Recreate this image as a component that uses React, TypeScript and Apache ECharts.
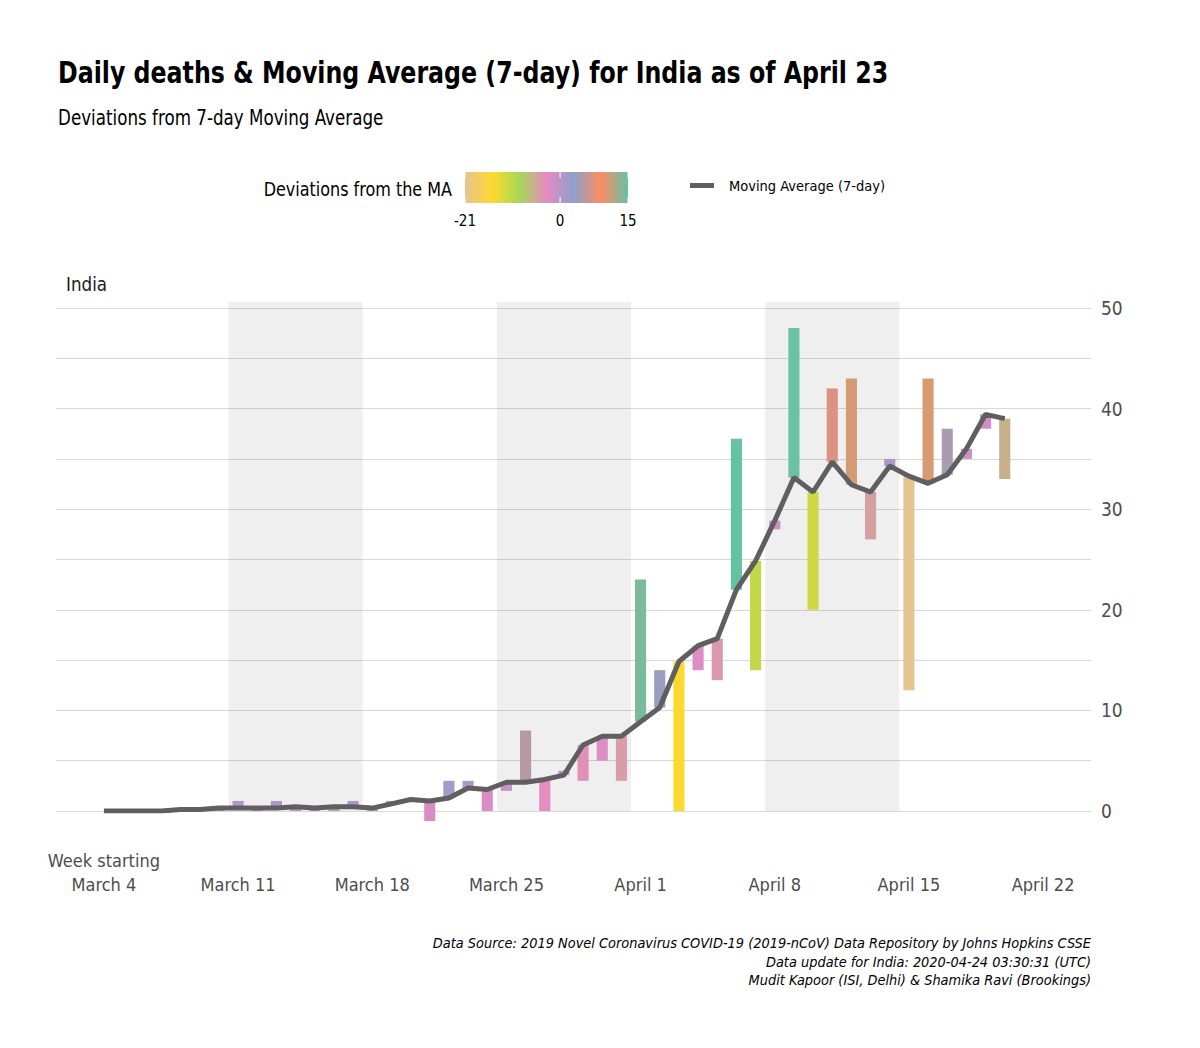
import React, { useEffect, useRef } from "react";
import * as echarts from "echarts";

// Category axis (one slot per day, with padding days on both sides)
const categories = [
  "Mar 2", "Mar 3", "Mar 4", "Mar 5", "Mar 6", "Mar 7", "Mar 8", "Mar 9", "Mar 10",
  "Mar 11", "Mar 12", "Mar 13", "Mar 14", "Mar 15", "Mar 16", "Mar 17", "Mar 18",
  "Mar 19", "Mar 20", "Mar 21", "Mar 22", "Mar 23", "Mar 24", "Mar 25", "Mar 26",
  "Mar 27", "Mar 28", "Mar 29", "Mar 30", "Mar 31", "Apr 1", "Apr 2", "Apr 3",
  "Apr 4", "Apr 5", "Apr 6", "Apr 7", "Apr 8", "Apr 9", "Apr 10", "Apr 11",
  "Apr 12", "Apr 13", "Apr 14", "Apr 15", "Apr 16", "Apr 17", "Apr 18", "Apr 19",
  "Apr 20", "Apr 21", "Apr 22", "Apr 23", "Apr 24",
];

// Dates that carry data (March 4 .. April 20)
const dataStart = "Mar 4";

// Daily deaths, Mar 4 .. Apr 20
const deaths = [
  0, 0, 0, 0, 0, 0, 0, 1, 0, 1, 0, 0, 0, 1, 0, 1, 1, -1, 3, 3, 0, 2, 8, 0,
  4, 3, 5, 3, 23, 14, 0, 14, 13, 37, 14, 28, 48, 20, 42, 43, 27, 35, 12, 43,
  38, 35, 38, 33,
];

// 7-day moving average, Mar 4 .. Apr 20
const movingAvg = [
  0, 0, 0, 0, 0.14, 0.14, 0.29, 0.29, 0.29, 0.29, 0.43, 0.29, 0.43, 0.43, 0.29,
  0.71, 1.14, 1.0, 1.29, 2.29, 2.14, 2.86, 2.86, 3.14, 3.57, 6.57, 7.43, 7.43,
  8.86, 10.29, 14.86, 16.43, 17.14, 22.0, 24.86, 28.86, 33.14, 31.71, 34.71,
  32.43, 31.71, 34.29, 33.29, 32.57, 33.43, 36.0, 39.43, 39.0,
];

// Shaded weeks (week start dates)
const shadedWeeks = ["Mar 11", "Mar 25", "Apr 8"];

// X tick labels
const tickDates = ["Mar 4", "Mar 11", "Mar 18", "Mar 25", "Apr 1", "Apr 8", "Apr 15", "Apr 22"];
const tickLabels = [
  "Week starting\nMarch 4", "March 11", "March 18", "March 25",
  "April 1", "April 8", "April 15", "April 22",
];

// Colour scale for deviations
const devMin = -21;
const devMax = 15;
const devTicks = [-21, 0, 15];
const palette = ["#e5c494", "#ffd92f", "#a6d854", "#e78ac3", "#8da0cb", "#fc8d62", "#66c2a5"];

const FONT = "'Liberation Sans Narrow', 'Arial Narrow', 'DejaVu Sans Condensed', sans-serif";

export default function App() {
  const ref = useRef<HTMLDivElement>(null);

  useEffect(() => {
    if (!ref.current) return;
    const chart = echarts.init(ref.current, null, { renderer: "svg" });

    const offset = categories.indexOf(dataStart);
    const barData = deaths.map((d, i) => [offset + i, movingAvg[i], d, d - movingAvg[i]]);
    const lineData = movingAvg.map((m, i) => [offset + i, m]);
    const shadeData = shadedWeeks.map((w) => [categories.indexOf(w), categories.indexOf(w) + 6]);

    // legend colour bar geometry
    const cbX = 465, cbY = 172, cbW = 163, cbH = 31;
    const devToX = (v: number) => cbX + ((v - devMin) / (devMax - devMin)) * cbW;

    const graphics: any[] = [
      {
        type: "text",
        x: 58, y: 72, scaleX: 0.85,
        style: {
          text: "Daily deaths & Moving Average (7-day) for India as of April 23",
          x: 0, y: 0, align: "left", verticalAlign: "middle",
          fontSize: 31, fontWeight: "bold", fontFamily: FONT, fill: "#000",
        },
      },
      {
        type: "text",
        x: 58, y: 118, scaleX: 0.886,
        style: {
          text: "Deviations from 7-day Moving Average",
          x: 0, y: 0, align: "left", verticalAlign: "middle",
          fontSize: 21, fontFamily: FONT, fill: "#000",
        },
      },
      {
        type: "rect",
        shape: { x: cbX, y: cbY, width: cbW, height: cbH },
        style: {
          fill: new echarts.graphic.LinearGradient(
            0, 0, 1, 0,
            palette.map((c, i) => ({ offset: i / (palette.length - 1), color: c }))
          ),
        },
      },
      {
        type: "text",
        x: 452, y: 189, scaleX: 0.89,
        style: {
          text: "Deviations from the MA",
          x: 0, y: 0, align: "right", verticalAlign: "middle",
          fontSize: 20, fontFamily: FONT, fill: "#000",
        },
      },
      {
        type: "text",
        x: 66, y: 284, scaleX: 0.93,
        style: {
          text: "India", x: 0, y: 0, align: "left", verticalAlign: "middle",
          fontSize: 20, fontFamily: FONT, fill: "#1a1a1a",
        },
      },
      {
        type: "text",
        style: {
          text:
            "Data Source: 2019 Novel Coronavirus COVID-19 (2019-nCoV) Data Repository by Johns Hopkins CSSE\nData update for India: 2020-04-24 03:30:31 (UTC)\nMudit Kapoor (ISI, Delhi) & Shamika Ravi (Brookings)",
          x: 1091, y: 934, align: "right", verticalAlign: "top",
          fontSize: 14.4, fontStyle: "italic", lineHeight: 18.5, fontFamily: FONT, fill: "#000",
        },
      },
    ];
    devTicks.forEach((t) => {
      const x = devToX(t);
      graphics.push(
        { type: "line", shape: { x1: x, y1: cbY, x2: x, y2: cbY + 6 }, style: { stroke: "#fff", lineWidth: 1 } },
        { type: "line", shape: { x1: x, y1: cbY + cbH - 6, x2: x, y2: cbY + cbH }, style: { stroke: "#fff", lineWidth: 1 } },
        {
          type: "text",
          style: {
            text: String(t), x, y: 221, align: "center", verticalAlign: "middle",
            fontSize: 15, fontFamily: FONT, fill: "#000",
          },
        }
      );
    });

    const option: any = {
      animation: false,
      textStyle: { fontFamily: FONT },
      legend: {
        data: ["Moving Average (7-day)"],
        left: 690, top: 178, padding: 0,
        icon: "rect", itemWidth: 24, itemHeight: 5, itemGap: 10,
        textStyle: { fontSize: 14.5, color: "#000", fontFamily: FONT, padding: [0, 0, 0, 10] },
      },
      grid: { left: 56, right: 109, top: 308, bottom: 237, containLabel: false },
      xAxis: {
        type: "category",
        data: categories,
        boundaryGap: true,
        axisLine: { show: false },
        axisTick: { show: false },
        splitLine: { show: false },
        axisLabel: {
          interval: (_i: number, v: string) => tickDates.includes(v),
          formatter: (v: string) => tickLabels[tickDates.indexOf(v)],
          verticalAlign: "bottom",
          lineHeight: 24,
          margin: 85,
          fontSize: 18,
          color: "#4d4d4d",
          fontFamily: FONT,
        },
      },
      yAxis: {
        type: "value",
        position: "right",
        min: 0, max: 50, interval: 5,
        axisLine: { show: false },
        axisTick: { show: false },
        axisLabel: {
          margin: 10, fontSize: 19, color: "#4d4d4d", fontFamily: FONT,
          formatter: (v: number) => (v % 10 === 0 ? String(v) : ""),
        },
        splitLine: { show: true, lineStyle: { color: "#d9d9d9", width: 1 } },
      },
      visualMap: {
        type: "continuous",
        show: false,
        min: devMin, max: devMax,
        dimension: 3,
        seriesIndex: 1,
        inRange: { color: palette },
      },
      series: [
        {
          type: "custom",
          name: "weeks",
          clip: false,
          silent: true,
          data: shadeData,
          encode: { x: [0, 1] },
          renderItem: (_p: any, api: any) => {
            const half = api.size([1, 0])[0] / 2;
            const a = api.coord([api.value(0), 50.6]);
            const b = api.coord([api.value(1), 0]);
            return {
              type: "rect",
              shape: { x: a[0] - half, y: a[1], width: b[0] - a[0] + 2 * half, height: b[1] - a[1] },
              style: { fill: "rgba(0,0,0,0.063)" },
            };
          },
        },
        {
          type: "custom",
          name: "Deviation",
          clip: false,
          data: barData,
          encode: { x: 0, y: [1, 2] },
          renderItem: (_p: any, api: any) => {
            const x = api.value(0);
            const a = api.coord([x, api.value(1)]);
            const b = api.coord([x, api.value(2)]);
            const w = api.size([1, 0])[0] * 0.58;
            const top = Math.min(a[1], b[1]);
            const h = Math.abs(a[1] - b[1]);
            return {
              type: "rect",
              shape: { x: a[0] - w / 2, y: top, width: w, height: h },
              style: { fill: api.visual("color"), opacity: 1 },
            };
          },
        },
        {
          type: "line",
          name: "Moving Average (7-day)",
          data: lineData,
          showSymbol: false,
          symbol: "none",
          color: "#5f5f5f",
          lineStyle: { color: "#5f5f5f", width: 5 },
          z: 5,
        },
      ],
      graphic: graphics,
    };

    chart.setOption(option);
    return () => chart.dispose();
  }, []);

  return (
    <div
      ref={ref}
      style={{ position: "absolute", left: 0, top: 0, width: 1200, height: 1048, background: "#fff" }}
    />
  );
}
